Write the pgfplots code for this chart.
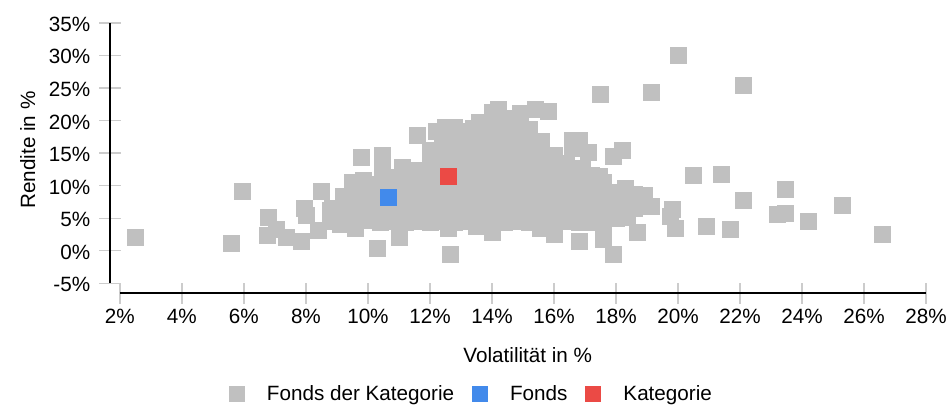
\documentclass[border=0pt]{standalone}
\usepackage{fontspec}
\setmainfont{Liberation Sans}
\usepackage{pgfplots}
\usepackage{pgfplotstable}
\pgfplotsset{compat=1.18}
\definecolor{cgray}{RGB}{192,192,192}
\definecolor{cblue}{RGB}{66,138,235}
\definecolor{cred}{RGB}{235,74,69}
\definecolor{ctick}{RGB}{204,204,204}
\pgfplotstableread{
x y
2.5 2.0
5.6 1.1
5.95 9.2
6.8 5.2
6.75 2.4
7.05 3.3
7.35 2.0
7.85 1.4
7.95 6.6
8.0 5.4
8.4 3.2
8.5 9.1
8.84 6.6
9.1 4.1
9.5 10.5
9.85 10.8
9.65 7.7
9.6 3.4
9.8 14.3
10.45 14.6
10.45 12.3
11.1 12.8
10.3 0.45
11.0 2.1
11.6 17.7
12.2 18.3
12.5 19.0
12.8 18.9
13.4 18.8
12.65 -0.5
12.6 3.5
13.5 3.8
14.0 2.8
15.0 4.5
15.55 3.5
16.0 2.6
16.8 1.5
17.6 1.8
17.9 -0.5
14.0 21.3
14.2 21.7
14.9 21.1
15.4 21.8
15.8 21.5
16.6 16.9
16.8 16.9
16.6 15.8
17.1 15.1
16.9 12.6
17.45 11.5
17.6 10.5
17.3 4.3
17.5 24.1
20.0 30.0
19.15 24.4
22.1 25.4
18.2 15.5
17.9 14.5
20.5 11.6
21.4 11.8
23.45 9.5
22.1 7.8
25.3 7.0
23.45 5.8
23.2 5.6
24.2 4.5
26.6 2.5
21.7 3.3
20.9 3.8
19.9 3.4
19.8 6.3
19.75 5.3
18.7 2.8
19.15 6.9
18.9 8.5
18.6 8.6
18.3 9.6
18.35 5.2
18.6 6.5
18.2 7.5
8.8 4.5
8.8 6.2
9.2 4.6
9.2 6.4
9.2 8.3
9.6 4.4
9.6 6.6
9.6 8.6
9.6 9.6
10.0 4.7
10.0 6.5
10.0 8.5
10.0 9.9
10.4 4.4
10.4 6.4
10.4 8.4
10.4 10.2
10.8 4.6
10.8 6.6
10.8 8.6
10.8 10.4
10.8 11.3
11.2 4.3
11.2 6.3
11.2 8.3
11.2 10.3
11.2 11.8
11.6 4.5
11.6 6.5
11.6 8.5
11.6 10.5
11.6 12.3
12.0 4.4
12.0 6.4
12.0 8.4
12.0 10.4
12.0 12.4
12.0 14.4
12.0 15.4
12.4 4.6
12.4 6.6
12.4 8.6
12.4 10.6
12.4 12.6
12.4 14.6
12.4 16.6
12.4 18.4
12.8 4.3
12.8 6.3
12.8 8.3
12.8 10.3
12.8 12.3
12.8 14.3
12.8 16.3
12.8 18.3
13.2 4.5
13.2 6.5
13.2 8.5
13.2 10.5
13.2 12.5
13.2 14.5
13.2 16.5
13.2 18.4
13.6 4.4
13.6 6.4
13.6 8.4
13.6 10.4
13.6 12.4
13.6 14.4
13.6 16.4
13.6 18.4
13.6 19.8
14.0 4.6
14.0 6.6
14.0 8.6
14.0 10.6
14.0 12.6
14.0 14.6
14.0 16.6
14.0 18.6
14.0 20.5
14.4 4.3
14.4 6.3
14.4 8.3
14.4 10.3
14.4 12.3
14.4 14.3
14.4 16.3
14.4 18.3
14.4 20.4
14.8 4.5
14.8 6.5
14.8 8.5
14.8 10.5
14.8 12.5
14.8 14.5
14.8 16.5
14.8 18.5
14.8 20.0
15.2 4.4
15.2 6.4
15.2 8.4
15.2 10.4
15.2 12.4
15.2 14.4
15.2 16.4
15.2 18.6
15.6 4.6
15.6 6.6
15.6 8.6
15.6 10.6
15.6 12.6
15.6 14.6
15.6 16.8
16.0 4.3
16.0 6.3
16.0 8.3
16.0 10.3
16.0 12.3
16.0 14.6
16.4 4.5
16.4 6.5
16.4 8.5
16.4 10.5
16.4 12.5
16.4 13.5
16.8 4.4
16.8 6.4
16.8 8.4
16.8 10.4
16.8 12.4
17.2 4.6
17.2 6.6
17.2 8.6
17.2 10.6
17.2 11.6
17.6 4.3
17.6 6.3
17.6 8.3
17.6 10.3
18.0 5.0
18.0 7.0
18.0 9.0
}\fondsdata
\begin{document}
\begin{tikzpicture}
\path[use as bounding box] (-82.5pt,-85.5pt) rectangle (628.5pt,219.75pt);
\begin{axis}[
  at={(0pt,0pt)}, anchor=south west,
  scale only axis, width=612pt, height=202.5pt,
  xmin=1.68, xmax=28, ymin=-6.5, ymax=35,
  axis line style={draw=none},
  clip=false,
  xtick={2,4,6,8,10,12,14,16,18,20,22,24,26,28},
  xticklabels={2\%,4\%,6\%,8\%,10\%,12\%,14\%,16\%,18\%,20\%,22\%,24\%,26\%,28\%},
  ytick={-5,0,5,10,15,20,25,30,35},
  yticklabels={-5\%,0\%,5\%,10\%,15\%,20\%,25\%,30\%,35\%},
  tick pos=left,
  tick align=center,
  major tick length=15.75pt,
  tick style={ctick, line width=1pt},
  font=\fontsize{15.5}{18}\selectfont,
  yticklabel style={anchor=east, inner sep=0pt, xshift=-6.75pt, yshift=-1pt},
  xticklabel style={anchor=north, inner sep=0pt, yshift=-3.75pt},
  xlabel={Volatilität in \%},
  ylabel={Rendite in \%},
  xlabel style={at={(axis description cs:0.512,-0.2556)}, anchor=base},
  ylabel style={at={(axis description cs:-0.0919,0.5296)}, anchor=base},
  legend columns=3,
  legend style={at={(axis description cs:0.1458,-0.374)}, anchor=west,
    draw=none, fill=none, inner sep=0pt, outer sep=0pt,
    nodes={inner sep=0pt, font=\fontsize{15.5}{18}\selectfont},
    /tikz/every odd column/.append style={column sep=17.25pt},
    /tikz/every even column/.append style={column sep=13.5pt}},
  legend image code/.code={\draw[#1, mark size=5.6pt] plot coordinates {(0pt,0pt)};},
]
\addplot[only marks, color=cgray, mark=square*, mark size=6pt, mark options={draw=none, fill=cgray}] table[x=x, y=y] {\fondsdata};
\addlegendentry{Fonds der Kategorie}
\addplot[only marks, color=cblue, mark=square*, mark size=6pt, mark options={draw=none, fill=cblue}] coordinates {(10.65,8.15)};
\addlegendentry{Fonds}
\addplot[only marks, color=cred, mark=square*, mark size=6pt, mark options={draw=none, fill=cred}] coordinates {(12.6,11.5)};
\addlegendentry{Kategorie}
\draw[black, line width=1.4pt] (axis cs:1.68,-5) -- (axis cs:1.68,35);
\draw[black, line width=1.4pt] (axis cs:2,-6.5) -- (axis cs:28,-6.5);
\end{axis}
\end{tikzpicture}
\end{document}
